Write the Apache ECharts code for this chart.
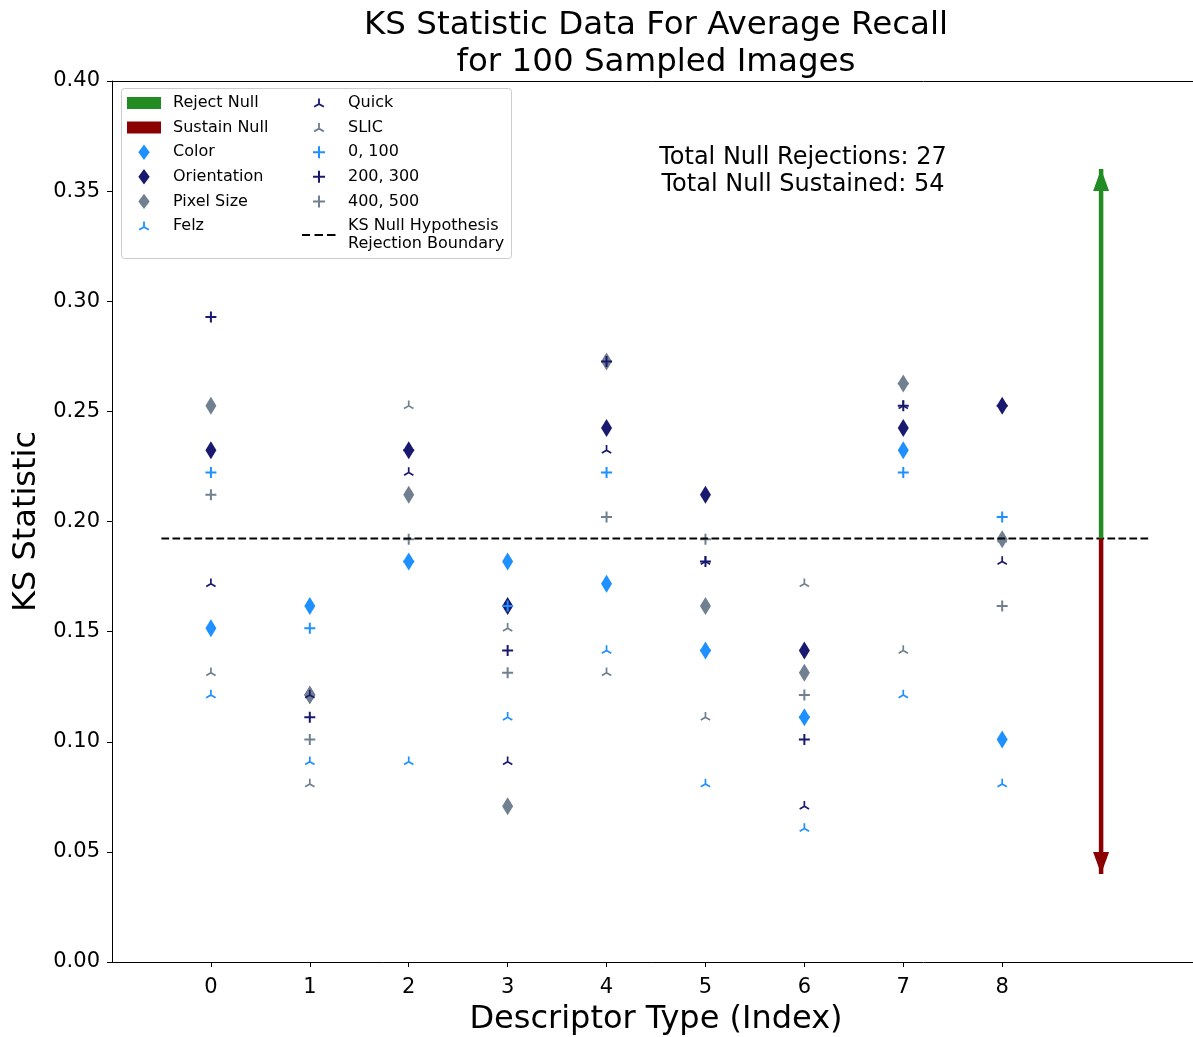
<!DOCTYPE html>
<html>
<head>
<meta charset="utf-8">
<script src="https://cdn.jsdelivr.net/npm/echarts@6/dist/echarts.min.js"></script>
<style>
html, body { margin: 0; padding: 0; background: #fff; }
#chart { width: 1193px; height: 1037px; }
</style>
</head>
<body>
<div id="chart"></div>
<script>
// x positions (descriptor type index)
var descIndex = [0, 1, 2, 3, 4, 5, 6, 7, 8];

// diamonds - descriptor
var colorVals = [0.1515, 0.1616, 0.1818, 0.1818, 0.1717, 0.1414, 0.1111, 0.2323, 0.1010];
var orientVals = [0.2323, 0.1212, 0.2323, 0.1616, 0.2424, 0.2121, 0.1414, 0.2424, 0.2525];
var pixelVals = [0.2525, 0.1212, 0.2121, 0.0707, 0.2727, 0.1616, 0.1313, 0.2626, 0.1919];

// tri markers - segmentation
var felzVals = [0.1212, 0.0909, 0.0909, 0.1111, 0.1414, 0.0808, 0.0606, 0.1212, 0.0808];
var quickVals = [0.1717, 0.1212, 0.2222, 0.0909, 0.2323, 0.1818, 0.0707, 0.2525, 0.1818];
var slicVals = [0.1313, 0.0808, 0.2525, 0.1515, 0.1313, 0.1111, 0.1717, 0.1414, 0.1919];

// plus markers - parameter pairs
var p0100Vals = [0.2222, 0.1515, 0.1818, 0.1616, 0.2222, 0.1414, 0.1111, 0.2222, 0.2020];
var p200300Vals = [0.2929, 0.1111, 0.2323, 0.1414, 0.2727, 0.1818, 0.1010, 0.2525, 0.2525];
var p400500Vals = [0.2121, 0.1010, 0.1919, 0.1313, 0.2020, 0.1919, 0.1212, 0.2626, 0.1616];

// rejection boundary and arrows
var boundary = 0.1923;
var boundarySpan = [-0.5, 9.5];
var arrowX = 9;
var rejectTip = 0.36;
var sustainTip = 0.04;
var totalRejected = 27;
var totalSustained = 54;

var yTicks = [0, 0.05, 0.1, 0.15, 0.2, 0.25, 0.3, 0.35, 0.4];

var BLUE = '#1e90ff', NAVY = '#191970', GRAY = '#708090';
var GREEN = '#228b22', RED = '#8b0000';
var FONT = 'DejaVu Sans';
var boundaryName = 'KS Null Hypothesis\nRejection Boundary';

function f(n) { return Math.round(n * 1000) / 1000; }

// tri_up marker drawn as three filled arms
function triPath(cx, cy, L, t, pad) {
	var h = t / 2, nx = 0.5 * h, ny = 0.866 * h, dx = 0.866 * L, dy = 0.5 * L;
	var s = 'M' + f(cx - h) + ',' + f(cy - L) + ' L' + f(cx + h) + ',' + f(cy - L) +
		' L' + f(cx + h) + ',' + f(cy + h) + ' L' + f(cx - h) + ',' + f(cy + h) + ' Z';
	s += ' M' + f(cx + nx) + ',' + f(cy + ny) + ' L' + f(cx - dx + nx) + ',' + f(cy + dy + ny) +
		' L' + f(cx - dx - nx) + ',' + f(cy + dy - ny) + ' L' + f(cx - nx) + ',' + f(cy - ny) + ' Z';
	s += ' M' + f(cx + nx) + ',' + f(cy - ny) + ' L' + f(cx + dx + nx) + ',' + f(cy + dy - ny) +
		' L' + f(cx + dx - nx) + ',' + f(cy + dy + ny) + ' L' + f(cx - nx) + ',' + f(cy + ny) + ' Z';
	return s + pad;
}
function plusPath(cx, cy, r, t, pad) {
	var h = t / 2;
	return 'M' + (cx - h) + ',' + (cy - r) + ' L' + (cx + h) + ',' + (cy - r) + ' L' + (cx + h) + ',' + (cy - h) +
		' L' + (cx + r) + ',' + (cy - h) + ' L' + (cx + r) + ',' + (cy + h) + ' L' + (cx + h) + ',' + (cy + h) +
		' L' + (cx + h) + ',' + (cy + r) + ' L' + (cx - h) + ',' + (cy + r) + ' L' + (cx - h) + ',' + (cy + h) +
		' L' + (cx - r) + ',' + (cy + h) + ' L' + (cx - r) + ',' + (cy - h) + ' L' + (cx - h) + ',' + (cy - h) + ' Z' + pad;
}

var TRI_L = 5.4, TRI_T = 1.7;
var triSymbol = 'path://' + triPath(0, 0, TRI_L, TRI_T, ' M0,' + TRI_L + ' L0,' + TRI_L);
var triSize = [2 * (0.866 * TRI_L + 0.25 * TRI_T), 2 * TRI_L];
var plusSymbol = 'path://' + plusPath(0, 0, 5.5, 2, '');

// legend icons: box 41 x 16, marker centred at (17, 8)
var LPAD = ' M0,0 L0,0 M41,16 L41,16';
var icons = {
	rect: 'path://M0,2 L34,2 L34,14 L0,14 Z' + LPAD,
	diamond: 'path://M17,0.3 L22.7,8 L17,15.7 L11.3,8 Z' + LPAD,
	tri: 'path://' + triPath(17, 9, 5.6, 1.8, LPAD),
	plus: 'path://' + plusPath(17, 8, 6, 2, LPAD),
	dash: 'path://M0,7 L8,7 L8,9 L0,9 Z M12.5,7 L21,7 L21,9 L12.5,9 Z M25,7 L33.5,7 L33.5,9 L25,9 Z' + LPAD
};

function pts(vals) {
	return vals.map(function (v, i) { return [descIndex[i], v]; });
}
function scatter(name, vals, color, symbol, size) {
	return {
		type: 'scatter', name: name, data: pts(vals),
		symbol: symbol, symbolSize: size,
		itemStyle: { color: color, opacity: 1, borderWidth: 0 },
		emphasis: { disabled: true }
	};
}

var series = [
	scatter('Color', colorVals, BLUE, 'diamond', [11, 18]),
	scatter('Orientation', orientVals, NAVY, 'diamond', [11, 18]),
	scatter('Pixel Size', pixelVals, GRAY, 'diamond', [11, 18]),
	scatter('Felz', felzVals, BLUE, triSymbol, triSize),
	scatter('Quick', quickVals, NAVY, triSymbol, triSize),
	scatter('SLIC', slicVals, GRAY, triSymbol, triSize),
	scatter('0, 100', p0100Vals, BLUE, plusSymbol, [11, 11]),
	scatter('200, 300', p200300Vals, NAVY, plusSymbol, [11, 11]),
	scatter('400, 500', p400500Vals, GRAY, plusSymbol, [11, 11]),
	{
		type: 'line', name: boundaryName,
		data: [[boundarySpan[0], boundary], [boundarySpan[1], boundary]],
		symbol: 'none',
		lineStyle: { color: '#000', width: 2, type: [7.7, 3.3] },
		itemStyle: { color: '#000' },
		emphasis: { disabled: true }
	},
	{
		type: 'line', name: 'Reject Null',
		data: [[arrowX, boundary], { value: [arrowX, rejectTip], symbol: 'triangle', symbolSize: [16, 22], symbolOffset: [0, '50%'] }],
		symbol: 'none', showSymbol: true,
		lineStyle: { color: GREEN, width: 4.5, cap: 'butt' },
		itemStyle: { color: GREEN, borderWidth: 0 },
		emphasis: { disabled: true }
	},
	{
		type: 'line', name: 'Sustain Null',
		data: [[arrowX, boundary], { value: [arrowX, sustainTip], symbol: 'triangle', symbolSize: [16, 22], symbolRotate: 180, symbolOffset: [0, '-50%'] }],
		symbol: 'none', showSymbol: true,
		lineStyle: { color: RED, width: 4.5, cap: 'butt' },
		itemStyle: { color: RED, borderWidth: 0 },
		emphasis: { disabled: true }
	}
];

function legend(left, items) {
	return {
		orient: 'vertical', left: left, top: 94, padding: 0, z: 6,
		itemWidth: 41, itemHeight: 16, itemGap: 6.6,
		selectedMode: false,
		itemStyle: { borderWidth: 0 },
		textStyle: { fontFamily: FONT, fontSize: 16, color: '#000', lineHeight: 18 },
		data: items.map(function (it) { return { name: it[0], icon: icons[it[1]] }; })
	};
}

var hidden = { show: false };

var chart = echarts.init(document.getElementById('chart'));
chart.setOption({
	animation: false,
	backgroundColor: '#fff',
	grid: {
		left: 112, top: 81, right: -7, bottom: 75,
		show: false, containLabel: false, outerBoundsMode: 'none'
	},
	legend: [
		legend(127, [['Reject Null', 'rect'], ['Sustain Null', 'rect'], ['Color', 'diamond'],
			['Orientation', 'diamond'], ['Pixel Size', 'diamond'], ['Felz', 'tri']]),
		legend(302, [['Quick', 'tri'], ['SLIC', 'tri'], ['0, 100', 'plus'], ['200, 300', 'plus'],
			['400, 500', 'plus'], [boundaryName, 'dash']])
	],
	xAxis: [{
		type: 'value', min: -1, max: 10, interval: 1,
		name: 'Descriptor Type (Index)', nameLocation: 'middle', nameGap: 42,
		nameTextStyle: { fontFamily: FONT, fontSize: 32, color: '#000' },
		axisLine: { show: true, onZero: false, lineStyle: { color: '#000', width: 1 } },
		axisTick: { show: true, length: 5, customValues: descIndex, lineStyle: { color: '#000', width: 1 } },
		axisLabel: { customValues: descIndex, margin: 15, fontFamily: FONT, fontSize: 21, color: '#000' },
		splitLine: hidden
	}, {
		// top spine only
		type: 'value', position: 'top', min: -1, max: 10, interval: 1,
		axisLine: { show: true, onZero: false, lineStyle: { color: '#000', width: 1 } },
		axisTick: hidden, axisLabel: hidden, splitLine: hidden
	}],
	yAxis: {
		type: 'value', min: 0, max: 0.4, interval: 0.05,
		name: 'KS Statistic', nameLocation: 'middle', nameGap: 67,
		nameTextStyle: { fontFamily: FONT, fontSize: 32, color: '#000' },
		axisLine: { show: true, onZero: false, lineStyle: { color: '#000', width: 1 } },
		axisTick: { show: true, length: 5, customValues: yTicks, lineStyle: { color: '#000', width: 1 } },
		axisLabel: {
			customValues: yTicks, margin: 12, fontFamily: FONT, fontSize: 21, color: '#000',
			formatter: function (v) { return v.toFixed(2); }
		},
		splitLine: hidden
	},
	graphic: [
		{
			type: 'text', x: 656, y: 44, z: 10,
			style: {
				text: 'KS Statistic Data For Average Recall\nfor 100 Sampled Images',
				font: '32.5px "DejaVu Sans"', fill: '#000', align: 'center', verticalAlign: 'middle', lineHeight: 37
			}
		},
		{
			type: 'text', x: 803, y: 171, z: 10,
			style: {
				text: 'Total Null Rejections: ' + totalRejected + '\nTotal Null Sustained: ' + totalSustained,
				font: '24px "DejaVu Sans"', fill: '#000', align: 'center', verticalAlign: 'middle', lineHeight: 27
			}
		},
		{
			type: 'rect', z: 5,
			shape: { x: 121.5, y: 88.5, width: 390, height: 170, r: 3 },
			style: { fill: 'rgba(255,255,255,0.8)', stroke: '#cccccc', lineWidth: 1 }
		}
	],
	series: series
});
</script>
</body>
</html>
